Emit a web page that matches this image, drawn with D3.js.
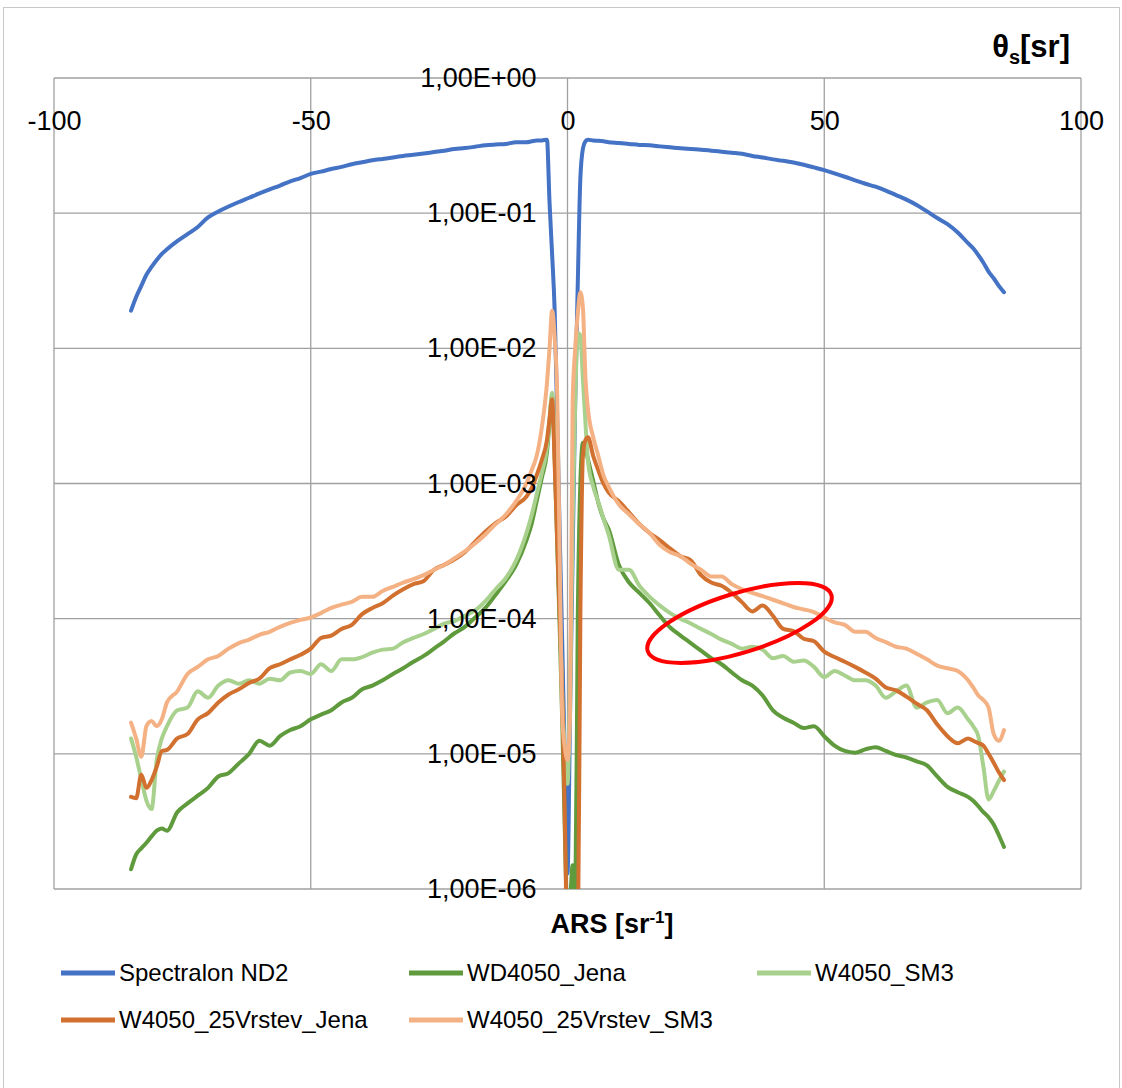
<!DOCTYPE html>
<html lang="en">
<head>
    <meta charset="UTF-8">
    <title>ARS</title>
    <script src="https://d3js.org/d3.v7.min.js"></script>
    <style>
        body { margin: 0; background: #fff; }
        text { font-family: "Liberation Sans", Arial, sans-serif; fill: #000; }
        .grid line { stroke: #a0a0a0; stroke-width: 1.3px; }
        .axis path { display: none; }
        .axis text { font-size: 27px; }
        .series { fill: none; stroke-width: 4px; stroke-linejoin: round; stroke-linecap: round; }
        .legend text { font-size: 24px; }
    </style>
</head>
<body>
<svg width="1122" height="1088"></svg>
<script>
    // Angles (deg)
    const angles = [
        -85, -84, -83, -82, -81, -80, -79, -78,
        -76, -74, -72, -70, -68, -66, -64, -62, -60, -58, -56, -54, -52, -50, -48, -46, -44, -42,
        -40, -38, -36, -34, -32, -30, -28, -26, -24, -22, -20, -18, -16, -14, -12, -10,
        -8, -7, -6, -5, -4,
        -3.5, -3, -2.5, -2, -1.5, -1, -0.5, 0, 0.5, 1, 1.5, 2, 2.5, 3, 3.5,
        4, 5, 6, 7, 8,
        10, 12, 14, 16, 18, 20, 22, 24, 26, 28, 30, 32, 34, 36, 38, 40, 42, 44,
        46, 48, 50, 52, 54, 56, 58, 60, 62, 64, 66, 68, 70, 72, 74, 76, 78,
        79, 80, 81, 82, 83, 84, 85
    ];

    const spectralonND2 = [
        0.019, 0.024, 0.029, 0.035, 0.040, 0.045, 0.050, 0.054,
        0.062, 0.070, 0.079, 0.093, 0.103, 0.112, 0.121, 0.130, 0.140, 0.150, 0.160, 0.172, 0.182, 0.195, 0.203, 0.212, 0.220, 0.230,
        0.238, 0.246, 0.252, 0.258, 0.265, 0.270, 0.276, 0.283, 0.290, 0.298, 0.303, 0.310, 0.318, 0.322, 0.325, 0.335,
        0.335, 0.340, 0.345, 0.345, 0.350,
        0.12, 0.05, 0.019, 3e-3, 4e-4, 6e-5, 8e-6, 1.3e-6, 2e-5, 3e-4, 4e-3, 3e-2, 0.18, 0.30, 0.34,
        0.350, 0.345, 0.343, 0.340, 0.335,
        0.330, 0.325, 0.320, 0.318, 0.312, 0.307, 0.302, 0.298, 0.295, 0.290, 0.285, 0.280, 0.275, 0.265, 0.258, 0.250, 0.244, 0.237,
        0.228, 0.218, 0.208, 0.197, 0.186, 0.175, 0.165, 0.157, 0.147, 0.136, 0.126, 0.115, 0.103, 0.092, 0.083, 0.072, 0.060,
        0.055, 0.049, 0.043, 0.037, 0.033, 0.029, 0.026
    ];

    const wd4050Jena = [
        1.4e-6, 1.8e-6, 2.0e-6, 2.2e-6, 2.45e-6, 2.7e-6, 2.8e-6, 2.7e-6,
        3.7e-6, 4.3e-6, 4.9e-6, 5.6e-6, 6.8e-6, 7.2e-6, 8.5e-6, 1.0e-5, 1.25e-5, 1.15e-5, 1.35e-5, 1.5e-5, 1.6e-5, 1.8e-5, 1.95e-5, 2.1e-5, 2.4e-5, 2.6e-5,
        3.0e-5, 3.2e-5, 3.5e-5, 3.9e-5, 4.3e-5, 4.8e-5, 5.3e-5, 6.0e-5, 6.8e-5, 7.8e-5, 8.7e-5, 1.02e-4, 1.2e-4, 1.5e-4, 1.9e-4, 2.5e-4,
        3.8e-4, 5.0e-4, 7.4e-4, 1.1e-3, 1.7e-3,
        2.8e-3, 4.5e-3, 1.6e-3, 3.5e-4, 8e-5, 1.6e-5, 2.5e-6, 6e-7, 8e-7, 1.5e-6, 7e-7, 1e-4, 1.0e-3, 2.0e-3, 1.8e-3,
        1.5e-3, 1.05e-3, 7.2e-4, 5.5e-4, 4.6e-4,
        2.5e-4, 1.85e-4, 1.55e-4, 1.3e-4, 1.05e-4, 8.6e-5, 7.5e-5, 6.6e-5, 5.8e-5, 5.1e-5, 4.6e-5, 4.0e-5, 3.5e-5, 3.2e-5, 2.7e-5, 2.1e-5, 1.85e-5, 1.7e-5,
        1.55e-5, 1.6e-5, 1.35e-5, 1.15e-5, 1.05e-5, 1.02e-5, 1.08e-5, 1.12e-5, 1.05e-5, 9.8e-6, 9.4e-6, 8.8e-6, 8.2e-6, 6.8e-6, 5.7e-6, 5.2e-6, 4.8e-6,
        4.5e-6, 4.1e-6, 3.7e-6, 3.4e-6, 3.0e-6, 2.5e-6, 2.05e-6
    ];

    const w4050SM3 = [
        1.3e-5, 9.5e-6, 6.5e-6, 4.5e-6, 3.9e-6, 9e-6, 1.3e-5, 1.6e-5,
        2.1e-5, 2.2e-5, 2.9e-5, 2.6e-5, 3.2e-5, 3.5e-5, 3.3e-5, 3.5e-5, 3.3e-5, 3.6e-5, 3.5e-5, 4.0e-5, 4.1e-5, 3.9e-5, 4.6e-5, 4.1e-5, 5.0e-5, 5.0e-5,
        5.2e-5, 5.6e-5, 5.9e-5, 6.0e-5, 6.7e-5, 7.2e-5, 7.7e-5, 8.4e-5, 9.2e-5, 9.6e-5, 1.05e-4, 1.15e-4, 1.35e-4, 1.65e-4, 2.0e-4, 2.7e-4,
        4.3e-4, 5.8e-4, 8.3e-4, 1.2e-3, 1.85e-3,
        3.0e-3, 4.7e-3, 1.8e-3, 4.5e-4, 1.2e-4, 2.5e-5, 1.0e-5, 6e-6, 3e-5, 5e-4, 4e-3, 1.3e-2, 1.25e-2, 5.9e-3, 2.8e-3,
        1.45e-3, 9.5e-4, 7.3e-4, 5.5e-4, 4.2e-4,
        2.3e-4, 2.3e-4, 1.75e-4, 1.45e-4, 1.25e-4, 1.1e-4, 1.0e-4, 9.2e-5, 8.4e-5, 7.7e-5, 7.0e-5, 6.5e-5, 6.0e-5, 6.2e-5, 5.9e-5, 5.1e-5, 5.3e-5, 4.8e-5,
        4.9e-5, 4.4e-5, 3.7e-5, 4.1e-5, 3.8e-5, 3.5e-5, 3.5e-5, 3.2e-5, 2.6e-5, 2.9e-5, 3.2e-5, 2.2e-5, 2.4e-5, 2.5e-5, 2.0e-5, 2.2e-5, 1.8e-5,
        1.6e-5, 1.35e-5, 8e-6, 4.6e-6, 5.3e-6, 6.3e-6, 7.4e-6
    ];

    const w4050_25VrstevJena = [
        4.8e-6, 4.7e-6, 7.0e-6, 5.6e-6, 6.4e-6, 8.0e-6, 1.05e-5, 1.07e-5,
        1.3e-5, 1.4e-5, 1.8e-5, 2.0e-5, 2.4e-5, 2.75e-5, 3.0e-5, 3.35e-5, 3.6e-5, 4.3e-5, 4.6e-5, 5.0e-5, 5.4e-5, 6.0e-5, 7.2e-5, 7.5e-5, 8.4e-5, 9.0e-5,
        1.08e-4, 1.2e-4, 1.3e-4, 1.48e-4, 1.65e-4, 1.8e-4, 1.9e-4, 2.3e-4, 2.5e-4, 2.75e-4, 3.1e-4, 3.7e-4, 4.4e-4, 5.1e-4, 5.7e-4, 6.9e-4,
        8.0e-4, 9.2e-4, 1.15e-3, 1.5e-3, 2.1e-3,
        3.0e-3, 4.2e-3, 1.4e-3, 3.7e-4, 1.0e-4, 2.5e-5, 3e-6, 3e-7, 2e-7, 2e-7, 2e-7, 3e-7, 1e-4, 1.6e-3, 2.1e-3,
        2.2e-3, 1.6e-3, 1.25e-3, 1.0e-3, 8.6e-4,
        7.4e-4, 6.1e-4, 5.0e-4, 4.3e-4, 3.8e-4, 3.3e-4, 2.9e-4, 2.7e-4, 2.1e-4, 1.85e-4, 1.75e-4, 1.55e-4, 1.32e-4, 1.13e-4, 1.25e-4, 1.05e-4, 8.4e-5, 8.1e-5,
        7.1e-5, 6.8e-5, 5.7e-5, 5.2e-5, 4.8e-5, 4.4e-5, 4.0e-5, 3.6e-5, 3.1e-5, 2.95e-5, 2.65e-5, 2.35e-5, 2.1e-5, 1.65e-5, 1.35e-5, 1.2e-5, 1.3e-5,
        1.25e-5, 1.2e-5, 1.15e-5, 1.0e-5, 8.6e-6, 7.3e-6, 6.4e-6
    ];

    const w4050_25VrstevSM3 = [
        1.7e-5, 1.3e-5, 9.5e-6, 1.6e-5, 1.75e-5, 1.6e-5, 1.8e-5, 2.4e-5,
        2.9e-5, 3.9e-5, 4.4e-5, 5.0e-5, 5.3e-5, 6.0e-5, 6.6e-5, 7.0e-5, 7.6e-5, 8.0e-5, 8.7e-5, 9.3e-5, 9.8e-5, 1.02e-4, 1.1e-4, 1.2e-4, 1.27e-4, 1.33e-4,
        1.45e-4, 1.45e-4, 1.6e-4, 1.72e-4, 1.85e-4, 1.96e-4, 2.1e-4, 2.3e-4, 2.5e-4, 2.8e-4, 3.15e-4, 3.6e-4, 4.2e-4, 5.0e-4, 5.9e-4, 7.4e-4,
        1.0e-3, 1.25e-3, 1.6e-3, 2.6e-3, 5.5e-3,
        1.0e-2, 1.9e-2, 1.2e-2, 4.5e-3, 2.5e-4, 1.8e-5, 1.1e-5, 9e-6, 2e-5, 4e-3, 1.0e-2, 1.8e-2, 2.6e-2, 2.0e-2, 6.0e-3,
        3.5e-3, 2.2e-3, 1.6e-3, 1.15e-3, 9.5e-4,
        7.0e-4, 5.9e-4, 5.0e-4, 4.3e-4, 3.5e-4, 3.1e-4, 2.9e-4, 2.55e-4, 2.3e-4, 2.05e-4, 2.05e-4, 1.8e-4, 1.65e-4, 1.55e-4, 1.47e-4, 1.38e-4, 1.3e-4, 1.22e-4,
        1.17e-4, 1.12e-4, 1.02e-4, 9.4e-5, 9.0e-5, 8.0e-5, 8.0e-5, 7.2e-5, 6.7e-5, 6.2e-5, 6.0e-5, 5.5e-5, 5.0e-5, 4.5e-5, 4.3e-5, 4.1e-5, 3.5e-5,
        3.1e-5, 2.7e-5, 2.5e-5, 2.2e-5, 1.4e-5, 1.25e-5, 1.5e-5
    ];

    const seriesNames = ["Spectralon ND2", "WD4050_Jena", "W4050_SM3", "W4050_25Vrstev_Jena", "W4050_25Vrstev_SM3"];
    const seriesValues = [spectralonND2, wd4050Jena, w4050SM3, w4050_25VrstevJena, w4050_25VrstevSM3];
    const seriesColors = ["#4472c4", "#5f9a3c", "#a9d18e", "#d2702f", "#f4b183"];

    const xTicks = [-100, -50, 0, 50, 100];
    const yTicks = [1, 1e-1, 1e-2, 1e-3, 1e-4, 1e-5, 1e-6];

    // highlighted region (red ellipse): centre angle / value, half width in deg, half height in decades
    const highlight = { angle: 33.5, value: 9.3e-5, halfWidth: 18.7, halfDecades: 0.22, tilt: -17 };

    const svg = d3.select("svg");
    const plot = { left: 54, right: 1081, top: 78, bottom: 889 };

    const x = d3.scaleLinear().domain([-100, 100]).range([plot.left, plot.right]);
    const y = d3.scaleLog().domain([1e-6, 1]).range([plot.bottom, plot.top]);

    // outer chart border
    svg.append("rect")
        .attr("x", 3.5).attr("y", 7.5)
        .attr("width", 1116).attr("height", 1100)
        .attr("fill", "none")
        .attr("stroke", "#c8c8c8");

    // gridlines
    const grid = svg.append("g").attr("class", "grid");
    grid.selectAll(".h").data(yTicks).enter().append("line")
        .attr("x1", plot.left).attr("x2", plot.right)
        .attr("y1", d => y(d)).attr("y2", d => y(d));
    grid.selectAll(".v").data(xTicks).enter().append("line")
        .attr("y1", plot.top).attr("y2", plot.bottom)
        .attr("x1", d => x(d)).attr("x2", d => x(d));

    // series
    svg.append("clipPath").attr("id", "clip")
        .append("rect")
        .attr("x", plot.left).attr("y", plot.top)
        .attr("width", plot.right - plot.left).attr("height", plot.bottom - plot.top);

    const line = d3.line()
        .x(d => x(d[0]))
        .y(d => y(d[1]))
        .curve(d3.curveMonotoneX);

    svg.append("g").attr("clip-path", "url(#clip)")
        .selectAll("path")
        .data(seriesValues)
        .enter().append("path")
        .attr("class", "series")
        .style("stroke", (d, i) => seriesColors[i])
        .attr("d", vals => line(angles.map((a, j) => [a, vals[j]])));

    // x axis labels (sit under the 1E+00 line)
    svg.append("g")
        .attr("class", "axis")
        .attr("transform", "translate(0," + y(1) + ")")
        .call(d3.axisBottom(x).tickValues(xTicks).tickSize(0).tickPadding(33).tickFormat(d => String(d)));

    // y axis labels along the 0 line
    const fmt = v => {
        const e = Math.round(Math.log10(v));
        return "1,00E" + (e >= 0 ? "+" : "-") + String(Math.abs(e)).padStart(2, "0");
    };
    svg.append("g")
        .attr("class", "axis")
        .attr("transform", "translate(" + x(0) + ",0)")
        .call(d3.axisLeft(y).tickValues(yTicks).tickSize(0).tickPadding(31).tickFormat(fmt));
    svg.selectAll(".axis").attr("font-family", null).attr("font-size", null);
    svg.selectAll(".axis text").attr("fill", "#000");

    // red ellipse annotation
    const cx = x(highlight.angle), cy = y(highlight.value);
    svg.append("ellipse")
        .attr("cx", cx).attr("cy", cy)
        .attr("rx", x(highlight.angle + highlight.halfWidth) - cx)
        .attr("ry", cy - y(highlight.value * Math.pow(10, highlight.halfDecades)))
        .attr("transform", "rotate(" + highlight.tilt + "," + cx + "," + cy + ")")
        .attr("fill", "none")
        .attr("stroke", "#ff0000")
        .attr("stroke-width", 4);

    // axis titles
    const tTitle = svg.append("text")
        .attr("x", 1070).attr("y", 57)
        .attr("text-anchor", "end")
        .style("font-size", "31px").style("font-weight", "bold");
    tTitle.append("tspan").text("θ");
    tTitle.append("tspan").attr("dy", 7).style("font-size", "20px").text("s");
    tTitle.append("tspan").attr("dy", -7).text("[sr]");

    const yTitle = svg.append("text")
        .attr("x", 612).attr("y", 933)
        .attr("text-anchor", "middle")
        .style("font-size", "27px").style("font-weight", "bold");
    yTitle.append("tspan").text("ARS [sr");
    yTitle.append("tspan").attr("dy", -10).style("font-size", "17px").text("-1");
    yTitle.append("tspan").attr("dy", 10).text("]");

    // legend
    const legend = svg.append("g").attr("class", "legend");
    const items = legend.selectAll("g").data(seriesNames).enter().append("g")
        .attr("transform", (d, i) => "translate(" + (61 + (i % 3) * 348) + "," + (973 + Math.floor(i / 3) * 47) + ")");
    items.append("line")
        .attr("x1", 0).attr("x2", 54)
        .attr("stroke", (d, i) => seriesColors[i])
        .attr("stroke-width", 5);
    items.append("text")
        .attr("x", 58).attr("dy", "0.35em")
        .text(d => d);
</script>
</body>
</html>
